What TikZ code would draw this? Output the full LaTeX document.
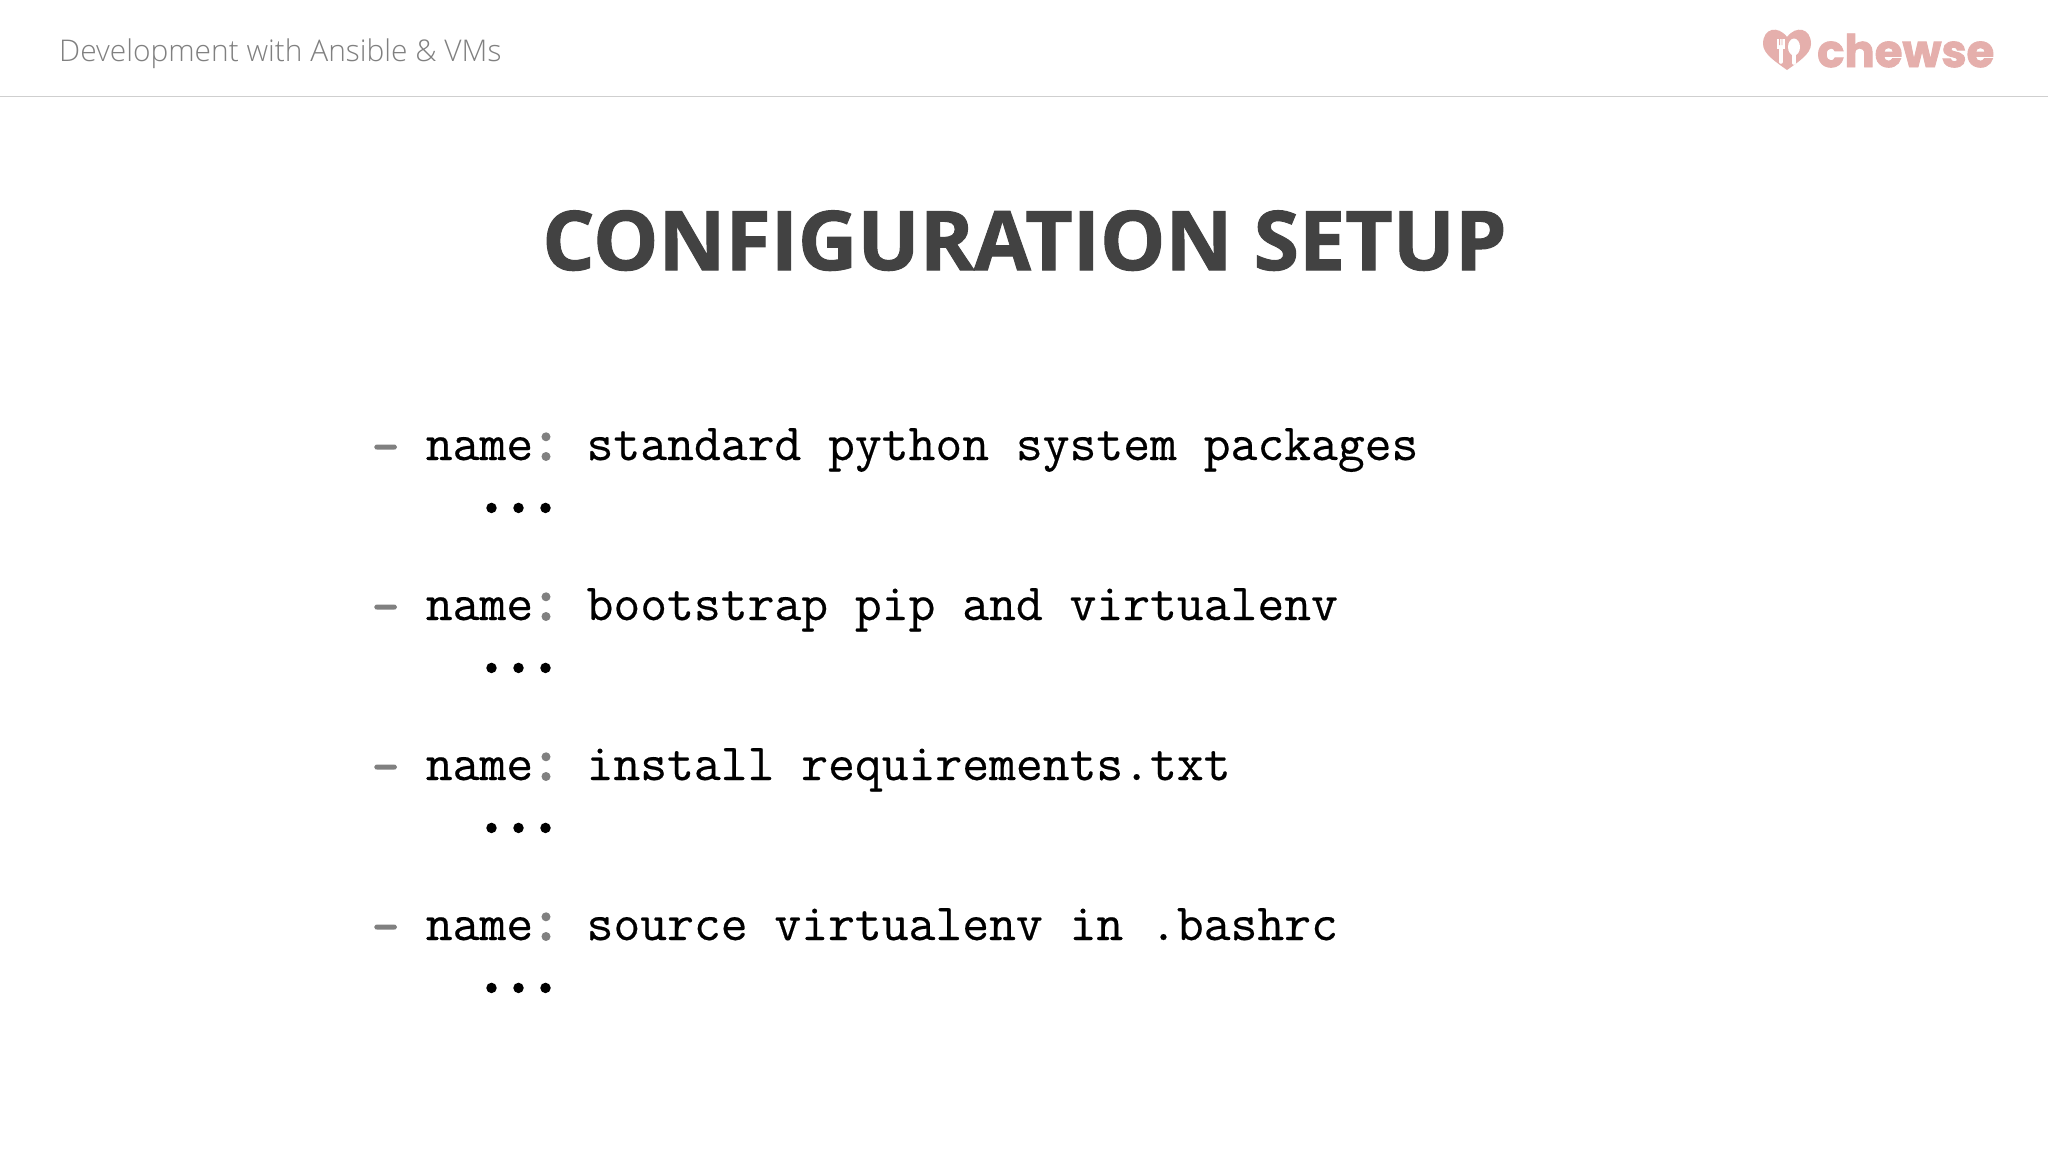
\documentclass[tikz,border=0pt]{standalone}
\usepackage{fontspec}
\setmainfont{Open Sans}
\newfontfamily\lightfont{Open Sans Light}
\newfontfamily\heavyfont[BoldFeatures={FakeBold=1.2}]{Open Sans}
\newfontfamily\logofont[BoldFeatures={FakeBold=2}]{Poppins}
\newfontfamily\codefont[FakeBold=0.4]{Latin Modern Mono}
\newfontfamily\dotfont[FakeBold=3]{Latin Modern Mono}
\definecolor{titlegray}{HTML}{424242}
\definecolor{headgray}{HTML}{808080}
\definecolor{rulegray}{HTML}{CFCFCF}
\definecolor{punctgray}{HTML}{808080}
\definecolor{logopink}{HTML}{E5AFAC}
\tikzset{
    codeline/.style={anchor=base west, inner sep=0pt, font=\codefont\fontsize{52.1}{52.1}\selectfont, text=black},
    dashmark/.style={anchor=base west, inner sep=0pt, font=\dotfont\fontsize{52.1}{52.1}\selectfont, text=punctgray},
    colonmark/.style={anchor=base, inner sep=0pt, font=\dotfont\fontsize{62}{62}\selectfont, text=punctgray},
    dotmark/.style={anchor=base, inner sep=0pt, font=\dotfont\fontsize{72}{72}\selectfont, text=black}
}
\begin{document}
\begin{tikzpicture}[x=1pt,y=-1pt]
    \useasboundingbox[fill=white] (0,0) rectangle (2048,1152);

    % Header
    \node[anchor=base west, inner sep=0pt, font=\lightfont\fontsize{29.9}{29.9}\selectfont, text=headgray] (header) at (59,61) {Development with Ansible \& VMs};
    \draw[rulegray, line width=1.1pt] (0,96.5) -- (2048,96.5);

    % Logo
    \fill[logopink] (1787,37) .. controls (1778,25) and (1763,28) .. (1763,44) .. controls (1763,54) and (1776,62) .. (1787,70) .. controls (1798,62) and (1811,54) .. (1811,44) .. controls (1811,28) and (1796,25) .. (1787,37) -- cycle;
    \fill[white] (1777,39) rectangle (1784.5,49);
    \fill[logopink] (1779.2,38) rectangle (1780.1,45) (1781.5,38) rectangle (1782.4,45);
    \draw[white, line width=3.6pt, line cap=round] (1780.8,48) -- (1780.8,62);
    \fill[white] (1794,47) ellipse (6 and 8.5);
    \draw[white, line width=3.6pt, line cap=round] (1794,50) -- (1794,63);
    \node[anchor=base west, inner sep=0pt, font=\logofont\bfseries\fontsize{45}{45}\selectfont, text=logopink] (logo) at (1817,67) {chewse};

    % Title
    \node[anchor=base, inner sep=0pt, font=\heavyfont\bfseries\fontsize{82.3}{82.3}\selectfont, text=titlegray] (title) at (1024.5,270) {CONFIGURATION SETUP};

    % Tasks
    \foreach \y/\name in {
        460/standard python system packages,
        620/bootstrap pip and virtualenv,
        780/install requirements.txt,
        940/source virtualenv in .bashrc
    } {
        \node[dashmark] at (372,\y+3) {-};
        \node[codeline] at (425.6,\y) {name};
        \node[colonmark] at (546,\y) {:};
        \node[codeline] at (586.4,\y) {\name};
        \foreach \x in {491.5,518.5,545.5} {
            \node[dotmark] at (\x,\y+52) {.};
        }
    }
\end{tikzpicture}
\end{document}
